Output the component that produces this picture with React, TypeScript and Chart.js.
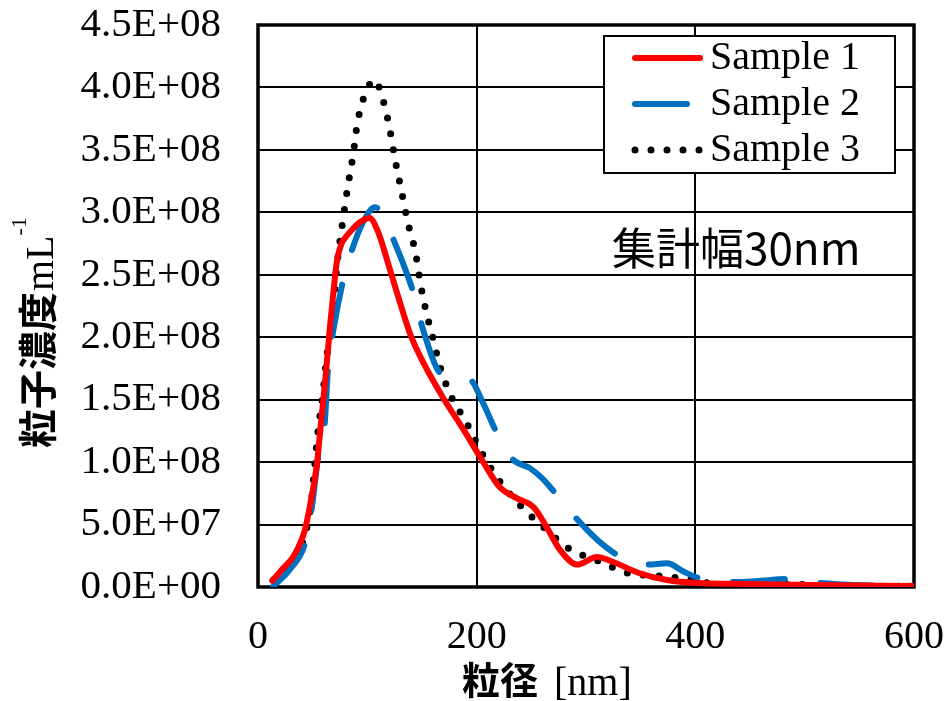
import React, { useEffect, useRef } from "react";
import { Chart, registerables } from "chart.js";

Chart.register(...registerables);

// ---- Data (x: particle diameter [nm], y: concentration [mL^-1]) ----
const sample1X = [13, 23, 32, 40, 43, 49, 54, 57, 60, 63, 66, 69, 72, 76, 81, 87, 93, 102, 110, 118, 127, 139, 151, 169, 188, 206, 221, 237, 252, 264, 276, 292, 310, 325, 349, 374, 402, 447, 508, 600];
const sample1Y = [5e6, 1.5e7, 2.4e7, 3.8e7, 4.6e7, 7.2e7, 9.9e7, 1.26e8, 1.52e8, 1.8e8, 2.1e8, 2.36e8, 2.6e8, 2.74e8, 2.81e8, 2.87e8, 2.92e8, 2.955e8, 2.84e8, 2.62e8, 2.36e8, 2.03e8, 1.8e8, 1.52e8, 1.26e8, 1.0e8, 8.0e7, 7.1e7, 6.4e7, 4.8e7, 3.0e7, 1.8e7, 2.4e7, 2.0e7, 1.1e7, 5.6e6, 3.2e6, 2.4e6, 1.6e6, 8e5];

const sample2X = [14, 30, 43, 49, 55, 61, 64, 69, 78, 86, 96, 107, 113, 124, 142, 151, 167, 180, 194, 206, 217, 232, 249, 260, 272, 290, 310, 328, 345, 356, 374, 390, 406, 435, 460, 484, 514, 550, 600];
const sample2Y = [5e5, 1.5e7, 3.5e7, 6.2e7, 1.04e8, 1.31e8, 1.74e8, 2.06e8, 2.46e8, 2.7e8, 2.92e8, 3.04e8, 3.0e8, 2.78e8, 2.36e8, 2.06e8, 1.71e8, 1.68e8, 1.66e8, 1.47e8, 1.26e8, 1.03e8, 9.5e7, 8.7e7, 7.5e7, 5.6e7, 3.8e7, 2.6e7, 2.0e7, 1.8e7, 1.9e7, 1.2e7, 6.4e6, 4e6, 5e6, 6.4e6, 3.2e6, 1.5e6, 1e6];

const sample3X = [14, 25, 34, 41, 45, 49, 52, 55, 59, 63, 68, 72, 78, 82, 87, 91, 99, 107, 113, 120, 125, 131, 137, 144, 149, 155, 159, 166, 176, 191, 205, 220, 239, 261, 284, 311, 339, 368, 398, 427, 457, 487, 516, 544, 600];
const sample3Y = [5.6e6, 1.5e7, 2.4e7, 3.6e7, 4.9e7, 7.0e7, 9.9e7, 1.26e8, 1.52e8, 1.85e8, 2.16e8, 2.56e8, 2.96e8, 3.2e8, 3.46e8, 3.72e8, 3.97e8, 4.06e8, 3.94e8, 3.69e8, 3.44e8, 3.18e8, 2.92e8, 2.68e8, 2.41e8, 2.16e8, 2.03e8, 1.78e8, 1.54e8, 1.31e8, 1.07e8, 8.6e7, 6.6e7, 4.8e7, 3.1e7, 2.1e7, 1.1e7, 8.8e6, 5.6e6, 1.2e6, 1.6e6, 2.4e6, 1.0e6, 8e5, 5e5];

const seriesNames = ["Sample 1", "Sample 2", "Sample 3"];
const xTicks = [0, 200, 400, 600];
const yMin = 0;
const yMax = 4.5e8;
const yStep = 5e7;
const xTitleCjk = "粒径";
const xTitleUnit = "[nm]";
const yTitleCjk = "粒子濃度";
const yTitleUnit = "mL";
const yTitleSup = "-1";
const annotationText = "集計幅30nm";

const SERIF = '"Liberation Serif", "Times New Roman", serif';
const CJK = '"Noto Sans CJK JP", "Noto Sans CJK SC", sans-serif';

const styles = [
  { color: "#ff0000", dash: [] as number[], width: 6 },
  { color: "#0070c0", dash: [52, 36], width: 6 },
  { color: "#000000", dash: [0, 16], width: 7 },
];

function toPoints(xs: number[], ys: number[]) {
  return xs.map((x, i) => ({ x, y: ys[i] }));
}

function sci(v: number): string {
  if (Math.abs(v) < 1) return "0.0E+00";
  let e = Math.floor(Math.log10(Math.abs(v)) + 1e-9);
  let m = v / Math.pow(10, e);
  let ms = m.toFixed(1);
  if (ms === "10.0") {
    e += 1;
    ms = "1.0";
  }
  return ms + "E" + (e >= 0 ? "+" : "-") + String(Math.abs(e)).padStart(2, "0");
}

function zeroPadding(scale: any) {
  scale.paddingTop = 0;
  scale.paddingBottom = 0;
  scale.paddingLeft = 0;
  scale.paddingRight = 0;
}

const framePlugin = {
  id: "frame",
  beforeDatasetsDraw(chart: any) {
    const { ctx, chartArea } = chart;
    ctx.save();
    ctx.strokeStyle = "#000";
    ctx.lineWidth = 3.5;
    ctx.strokeRect(chartArea.left, chartArea.top, chartArea.right - chartArea.left, chartArea.bottom - chartArea.top);
    ctx.restore();
  },
};

const textPlugin = {
  id: "texts",
  afterDraw(chart: any) {
    const { ctx } = chart;
    ctx.save();
    ctx.fillStyle = "#000";

    // Y axis title (rotated)
    ctx.save();
    ctx.translate(53, 448);
    ctx.rotate(-Math.PI / 2);
    ctx.textAlign = "left";
    ctx.font = "bold 39px " + CJK;
    ctx.textBaseline = "middle";
    ctx.fillText(yTitleCjk, 0, -16);
    let w = ctx.measureText(yTitleCjk).width;
    ctx.font = "40px " + SERIF;
    ctx.textBaseline = "alphabetic";
    ctx.fillText(yTitleUnit, w + 1, 0);
    w += ctx.measureText(yTitleUnit).width + 1;
    ctx.font = "22px " + SERIF;
    ctx.fillText(yTitleSup, w, -27);
    ctx.restore();

    // X axis title
    ctx.textAlign = "left";
    ctx.font = "bold 38px " + CJK;
    ctx.textBaseline = "middle";
    const x0 = 462;
    ctx.fillText(xTitleCjk, x0, 680);
    const wc = ctx.measureText(xTitleCjk).width;
    ctx.font = "40px " + SERIF;
    ctx.textBaseline = "alphabetic";
    ctx.fillText(xTitleUnit, x0 + wc + 16, 695);

    // Annotation
    ctx.font = "44px " + CJK;
    ctx.textBaseline = "middle";
    ctx.fillText(annotationText, 612, 248);

    // Legend
    const bx = 604, by = 36, bw = 291, bh = 137;
    ctx.fillStyle = "#fff";
    ctx.fillRect(bx, by, bw, bh);
    ctx.strokeStyle = "#000";
    ctx.lineWidth = 2;
    ctx.strokeRect(bx, by, bw, bh);
    const rows = [58, 104, 150];
    seriesNames.forEach((name, i) => {
      const s = styles[i];
      ctx.save();
      ctx.strokeStyle = s.color;
      ctx.lineWidth = s.width;
      ctx.lineCap = "round";
      ctx.setLineDash(s.dash);
      ctx.beginPath();
      ctx.moveTo(635, rows[i]);
      ctx.lineTo(700, rows[i]);
      ctx.stroke();
      ctx.restore();
      ctx.fillStyle = "#000";
      ctx.font = "40px " + SERIF;
      ctx.textBaseline = "middle";
      ctx.fillText(name, 710, rows[i]);
    });
    ctx.restore();
  },
};

export default function App() {
  const ref = useRef<HTMLCanvasElement | null>(null);
  useEffect(() => {
    if (!ref.current) return;
    const datasets = [
      toPoints(sample1X, sample1Y),
      toPoints(sample2X, sample2Y),
      toPoints(sample3X, sample3Y),
    ].map((data, i) => ({
      label: seriesNames[i],
      data,
      borderColor: styles[i].color,
      backgroundColor: styles[i].color,
      borderWidth: styles[i].width,
      borderDash: styles[i].dash,
      borderCapStyle: "round" as const,
      borderJoinStyle: "round" as const,
      pointRadius: 0,
      fill: false,
      cubicInterpolationMode: "monotone" as const,
    }));
    const chart = new Chart(ref.current, {
      type: "line",
      data: { datasets },
      options: {
        animation: false,
        responsive: true,
        maintainAspectRatio: false,
        devicePixelRatio: 1,
        layout: { padding: { top: 25, right: 32, bottom: 0, left: 0 } },
        plugins: { legend: { display: false }, tooltip: { enabled: false } },
        scales: {
          x: {
            type: "linear",
            min: xTicks[0],
            max: xTicks[xTicks.length - 1],
            afterBuildTicks: (scale: any) => {
              scale.ticks = xTicks.map((v) => ({ value: v }));
            },
            afterFit: (scale: any) => {
              scale.height = 114;
              zeroPadding(scale);
            },
            grid: { color: "#000", lineWidth: 2, drawTicks: false },
            border: { display: false },
            ticks: {
              color: "#000",
              font: { family: SERIF, size: 40 },
              padding: 26,
              maxRotation: 0,
              callback: (v: any) => String(v),
            },
          },
          y: {
            type: "linear",
            min: yMin,
            max: yMax,
            afterFit: (scale: any) => {
              scale.width = 258;
              zeroPadding(scale);
            },
            grid: { color: "#000", lineWidth: 2, drawTicks: false },
            border: { display: false },
            ticks: {
              stepSize: yStep,
              color: "#000",
              font: { family: SERIF, size: 41 },
              padding: 37,
              callback: (v: any) => sci(Number(v)),
            },
          },
        },
      },
      plugins: [framePlugin, textPlugin],
    });
    return () => chart.destroy();
  }, []);
  return (
    <div style={{ position: "absolute", left: 0, top: 0, width: 946, height: 701 }}>
      <canvas ref={ref} />
    </div>
  );
}
